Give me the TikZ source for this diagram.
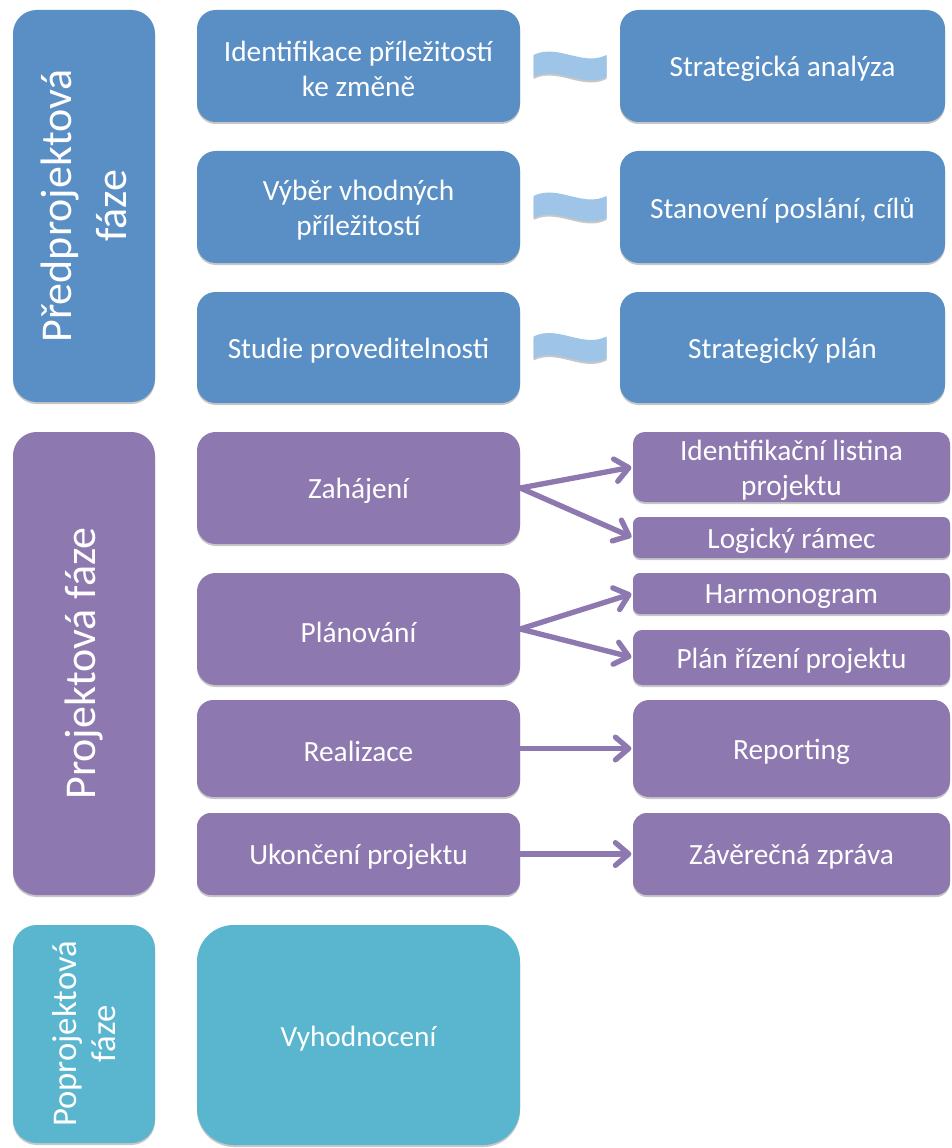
\documentclass[tikz,border=0pt]{standalone}
\usepackage{fontspec}
\setmainfont{Carlito}
\usetikzlibrary{arrows.meta,shadows,calc}

\definecolor{preblue}{HTML}{5A8FC5}
\definecolor{propurple}{HTML}{8D78B0}
\definecolor{postteal}{HTML}{5AB6CE}
\definecolor{wavefill}{HTML}{9EC4E8}

\tikzset{
  box/.style={inner sep=0pt, text=white, align=center,
    font=\fontsize{22}{26.25}\selectfont,
    drop shadow={shadow xshift=0pt, shadow yshift=-1.5pt, opacity=0.22, fill=black}},
  boxtext/.style={inner sep=0pt, text=white, align=center,
    font=\fontsize{22}{26.25}\selectfont, yshift=-2.4pt},
  pre/.style={box, fill=preblue},
  pro/.style={box, fill=propurple},
  post/.style={box, fill=postteal},
  sidetext/.style={font=\fontsize{33}{41}\selectfont},
  arr/.style={draw=propurple, line width=4pt, line cap=round,
    -{Straight Barb[length=10pt, width=17pt, line cap=round, round]}, shorten >=1pt},
  wave/.pic={
    \fill[wavefill, drop shadow={shadow xshift=0pt, shadow yshift=-1.5pt, opacity=0.22, fill=black}]
      (-36.5,-11) .. controls (-12.5,-23) and (12.5,1) .. (36.5,-11)
      -- (36.5,11) .. controls (12.5,23) and (-12.5,-1) .. (-36.5,11) -- cycle;
  }
}

% rounded box given by its pixel corners (x1,y1) and (x2,y2)
\newcommand{\boxat}[7][]{%
  \pgfmathsetmacro\bw{#5-#3}%
  \pgfmathsetmacro\bh{#6-#4}%
  \pgfmathsetmacro\br{min(\bw,\bh)*0.125}%
  \node[#1, minimum width=\bw*0.75pt, minimum height=\bh*0.75pt,
        rounded corners=\br pt,
        label={[boxtext]center:{#7}}] (#2) at ({(#3+#5)/2},{(#4+#6)/2}) {};}

% tall phase box with its label turned upwards
\newcommand{\sideat}[7][]{%
  \pgfmathsetmacro\bw{#5-#3}%
  \pgfmathsetmacro\bh{#6-#4}%
  \pgfmathsetmacro\br{min(\bw,\bh)*0.125}%
  \node[#1, rotate=90, minimum width=\bh*0.75pt, minimum height=\bw*0.75pt,
        rounded corners=\br pt] (#2) at ({(#3+#5)/2},{(#4+#6)/2}) {#7};}

\begin{document}
\begin{tikzpicture}[x=0.75pt, y=-0.75pt]
\useasboundingbox (0,0) rectangle (951,1148);
\clip (0,0) rectangle (951,1148);
\fill[white] (0,0) rectangle (951,1148);

% phase column
\sideat[pre, sidetext]{pref}{13}{10}{155}{402}{Předprojektová\\fáze}
\sideat[pro, sidetext]{prof}{13}{432}{155}{895}{Projektová fáze}
\sideat[post, font=\fontsize{26}{29}\selectfont]{postf}{13}{925}{155}{1143}{Poprojektová\\fáze}

% pre-project phase
\boxat[pre]{idz}{197}{10}{520}{122}{Identifikace příležitostí\\ke změně}
\boxat[pre]{vyb}{197}{151}{520}{263}{Výběr vhodných\\příležitostí}
\boxat[pre]{stu}{197}{292}{520}{403}{Studie proveditelnosti}
\boxat[pre]{san}{620}{10}{945}{122}{Strategická analýza}
\boxat[pre]{sta}{620}{151}{945}{263}{Stanovení poslání, cílů}
\boxat[pre]{spl}{620}{292}{945}{403}{Strategický plán}

\path ($(idz.east)!0.5!(san.west)$) pic {wave};
\path ($(vyb.east)!0.5!(sta.west)$) pic {wave};
\path ($(stu.east)!0.5!(spl.west)$) pic {wave};

% project phase
\boxat[pro]{zah}{197}{432}{520}{544}{Zahájení}
\boxat[pro]{pla}{197}{573}{520}{685}{Plánování}
\boxat[pro]{rea}{197}{700}{520}{797}{Realizace}
\boxat[pro]{uko}{197}{813}{520}{895}{Ukončení projektu}
\boxat[pro]{idl}{633}{432}{950}{502}{Identifikační listina\\projektu}
\boxat[pro]{lrm}{633}{517}{950}{558}{Logický rámec}
\boxat[pro]{har}{633}{573}{950}{614}{Harmonogram}
\boxat[pro]{prz}{633}{630}{950}{685}{Plán řízení projektu}
\boxat[pro]{rep}{633}{700}{950}{797}{Reporting}
\boxat[pro]{zzp}{633}{813}{950}{895}{Závěrečná zpráva}

\draw[arr] (zah.east) -- (idl.west);
\draw[arr] (zah.east) -- (lrm.west);
\draw[arr] (pla.east) -- (har.west);
\draw[arr] (pla.east) -- (prz.west);
\draw[arr] (rea.east) -- (rep.west);
\draw[arr] (uko.east) -- (zzp.west);

% post-project phase
\boxat[post]{vyh}{197}{925}{520}{1145}{Vyhodnocení}
\end{tikzpicture}
\end{document}
